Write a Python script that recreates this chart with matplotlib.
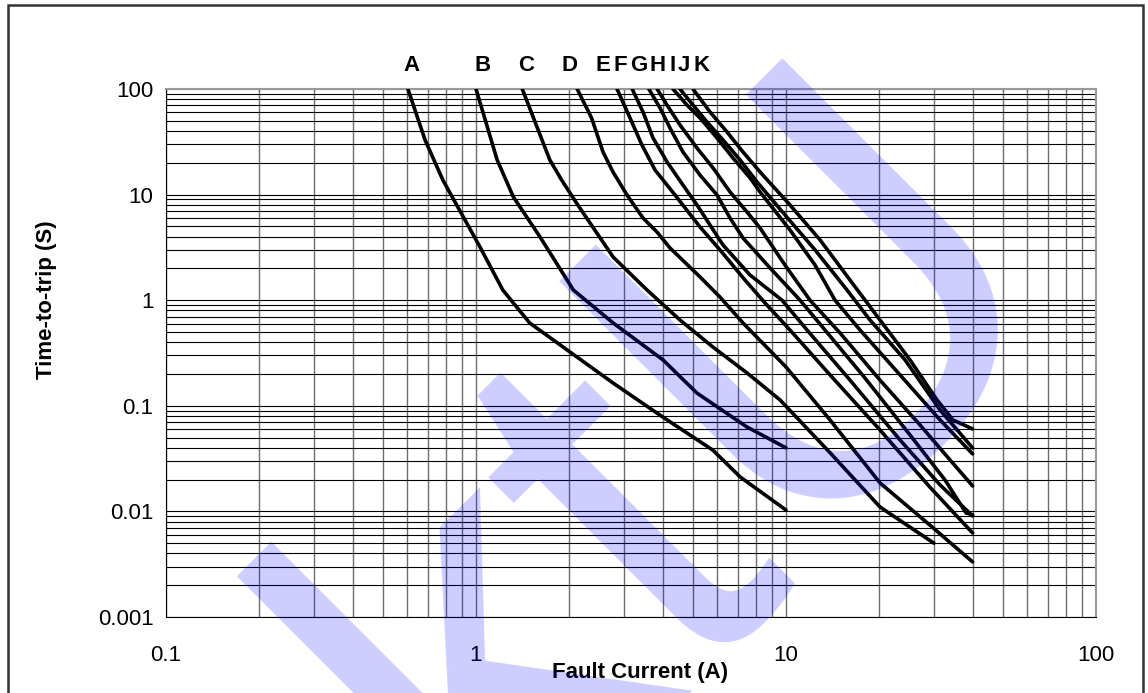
import matplotlib
matplotlib.use("Agg")
import matplotlib.pyplot as plt
from matplotlib.patches import Rectangle

plt.rcParams['font.family'] = ['Liberation Sans', 'DejaVu Sans']

# fault current (A) and time-to-trip (s)
a_i = [0.603, 0.685, 0.782, 1.03, 1.22, 1.49, 1.91, 2.77, 4.01, 5.81, 7.11, 10]
a_t = [100, 32.9, 13.7, 3.19, 1.25, 0.608, 0.36, 0.164, 0.078, 0.038, 0.0212, 0.0103]

b_i = [1.0, 1.17, 1.32, 1.61, 2.06, 2.77, 4.01, 5.16, 7.48, 10]
b_t = [100, 21.3, 9.49, 3.96, 1.25, 0.608, 0.272, 0.132, 0.063, 0.04]

c_i = [1.41, 1.73, 1.89, 2.13, 2.77, 3.56, 4.55, 5.81, 7.48, 9.57, 13.9, 20.1, 30]
c_t = [100, 21.3, 13.7, 7.97, 2.56, 1.25, 0.649, 0.36, 0.205, 0.1135, 0.0357, 0.011, 0.005]

d_i = [2.12, 2.36, 2.569, 2.766, 3.07, 3.457, 3.836, 4.225, 5.28, 6.125, 7.267, 10, 13.87, 20.1, 29.1, 40]
d_t = [100, 53.1, 25.3, 16.4, 9.91, 6.0, 4.42, 3.12, 1.66, 1.07, 0.608, 0.233, 0.0734, 0.0186, 0.00743, 0.00332]

e_i = [2.85, 3.14, 3.43, 3.78, 4.385, 5.28, 6.125, 7.376, 8.556, 10.3, 13.87, 20.1, 29.1, 40]
e_t = [100, 53.1, 29.5, 17.1, 9.91, 4.93, 2.99, 1.55, 0.941, 0.522, 0.196, 0.059, 0.017, 0.00624]

f_i = [3.19, 3.457, 3.724, 4.132, 4.652, 5.163, 5.686, 6.263, 7.654, 9.707, 11.69, 16.09, 23.33, 31.4, 40]
f_t = [100, 60.6, 34.4, 20.4, 12.3, 7.97, 5.15, 3.33, 1.73, 1.0, 0.522, 0.175, 0.0474, 0.0178, 0.00904]

g_i = [3.61, 3.923, 4.225, 4.652, 5.28, 5.99, 6.598, 7.267, 8.88, 11.1, 13.36, 17.98, 25.12, 32.59, 38.1, 40]
g_t = [100, 66.1, 42.7, 25.3, 15.3, 9.91, 6.0, 3.88, 2.02, 1.0, 0.522, 0.183, 0.0529, 0.0198, 0.00966, 0.0093]

h_i = [3.84, 4.132, 4.55, 5.163, 5.814, 6.598, 7.485, 8.244, 9.926, 11.95, 14.94, 20.1, 27.06, 33.81, 40]
h_t = [100, 70.5, 45.6, 27.6, 17.9, 10.6, 6.84, 4.83, 2.15, 1.0, 0.489, 0.175, 0.0658, 0.0307, 0.0174]

i_i = [4.32, 4.792, 5.28, 5.99, 6.745, 7.654, 8.244, 10.3, 12.41, 14.39, 17.33, 23.33, 31.4, 40]
i_t = [100, 70.5, 53.1, 34.4, 22.2, 14.4, 10.6, 4.62, 2.15, 1.0, 0.522, 0.196, 0.0734, 0.035]

j_i = [4.55, 5.01, 5.563, 6.263, 7.107, 8.062, 9.926, 12.41, 15.73, 18.66, 24.21, 31.4, 40]
j_t = [100, 70.5, 48.7, 32.9, 21.3, 13.2, 6.41, 2.99, 1.25, 0.649, 0.272, 0.0912, 0.0398]

k_i = [5.01, 5.686, 6.452, 7.267, 8.244, 10.3, 12.88, 16.09, 20.1, 25.12, 30.7, 34.57, 40]
k_t = [100, 60.6, 39.2, 25.3, 16.4, 7.97, 3.72, 1.55, 0.649, 0.272, 0.1135, 0.0734, 0.0603]

curve_names = ['A', 'B', 'C', 'D', 'E', 'F', 'G', 'H', 'I', 'J', 'K']
label_x = [0.62, 1.05, 1.45, 2.0, 2.57, 2.92, 3.35, 3.85, 4.3, 4.7, 5.35]

curves = [(a_i, a_t), (b_i, b_t), (c_i, c_t), (d_i, d_t), (e_i, e_t), (f_i, f_t),
          (g_i, g_t), (h_i, h_t), (i_i, i_t), (j_i, j_t), (k_i, k_t)]

fig = plt.figure(figsize=(11.48, 6.93), dpi=100)
ax = fig.add_axes([0.1446, 0.1097, 0.8101, 0.7619])

for cur, t in curves:
    ax.plot(cur, t, color='black', lw=2.6, solid_capstyle='round', solid_joinstyle='round', zorder=3)

ax.set_xscale('log')
ax.set_yscale('log')
ax.set_xlim(0.1, 100)
ax.set_ylim(0.001, 100)

ax.grid(which='both', axis='x', color='#6e6e6e', lw=1.0)
ax.grid(which='both', axis='y', color='black', lw=0.8)
ax.tick_params(which='both', length=0, labelsize=16)
ax.tick_params(axis='x', pad=20)
ax.tick_params(axis='y', pad=9)
ax.set_xticks([0.1, 1, 10, 100], ['0.1', '1', '10', '100'])
ax.set_yticks([0.001, 0.01, 0.1, 1, 10, 100], ['0.001', '0.01', '0.1', '1', '10', '100'])
for s in ['top', 'right']:
    ax.spines[s].set_color('#999999')
    ax.spines[s].set_linewidth(1.5)
for s in ['left', 'bottom']:
    ax.spines[s].set_color('black')

ax.set_xlabel('Fault Current (A)', fontsize=16, fontweight='bold')
ax.xaxis.set_label_coords(0.51, -0.085)
ax.set_ylabel('Time-to-trip (S)', fontsize=16, fontweight='bold')
ax.yaxis.set_label_coords(-0.117, 0.6)

for name, lx in zip(curve_names, label_x):
    ax.text(lx, 1.025, name, transform=ax.get_xaxis_transform(), ha='center', va='bottom',
            fontsize=16, fontweight='bold')

# watermark
fig.text(0.59, 0.33, 'ktU', fontsize=400, rotation=45, color='blue', alpha=0.2,
         ha='center', va='center', zorder=10)

fig.add_artist(Rectangle((8 / 1148, -0.05), 1135 / 1148, 1.05 - 5 / 693, transform=fig.transFigure,
                         fill=False, edgecolor='#333333', lw=1.8))

fig.savefig('out.png', dpi=100)
